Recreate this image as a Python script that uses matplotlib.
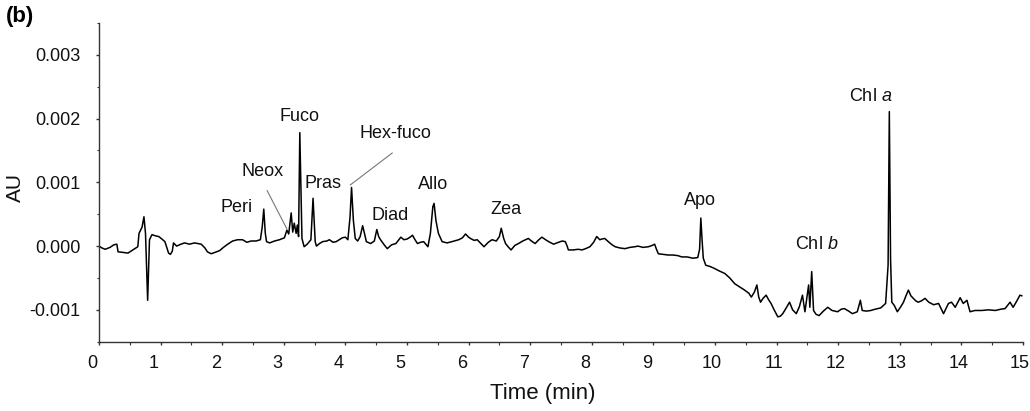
import matplotlib.pyplot as plt
from matplotlib.ticker import FixedLocator, MultipleLocator, FormatStrFormatter
from matplotlib.transforms import ScaledTranslation

plt.rcParams['font.family'] = ['Liberation Sans', 'DejaVu Sans']
plt.rcParams['mathtext.fontset'] = 'custom'
plt.rcParams['mathtext.rm'] = 'Liberation Sans'
plt.rcParams['mathtext.it'] = 'Liberation Sans:italic'

# chromatogram trace (time in min, absorbance in AU)
time = [0.00, 0.05, 0.10, 0.18, 0.24, 0.29, 0.31, 0.40, 0.47, 0.55, 0.63, 0.65, 0.70, 0.73, 0.755,
        0.79, 0.82, 0.86, 0.92, 0.97, 1.01, 1.07, 1.13, 1.16, 1.19, 1.21, 1.26, 1.33, 1.39, 1.47,
        1.55, 1.66, 1.72, 1.76, 1.82, 1.88, 1.96, 2.02, 2.09, 2.17, 2.25, 2.33, 2.40, 2.47, 2.55,
        2.62, 2.65, 2.675, 2.70, 2.72, 2.77, 2.85, 2.93, 3.01, 3.05, 3.08, 3.12, 3.145, 3.17, 3.20,
        3.22, 3.24, 3.26, 3.295, 3.33, 3.38, 3.44, 3.475, 3.51, 3.53, 3.58, 3.63, 3.70, 3.74, 3.80,
        3.85, 3.90, 3.95, 4.00, 4.04, 4.075, 4.10, 4.13, 4.16, 4.20, 4.24, 4.28, 4.31, 4.34, 4.41,
        4.47, 4.51, 4.54, 4.57, 4.63, 4.68, 4.75, 4.82, 4.90, 4.95, 5.00, 5.05, 5.09, 5.13, 5.17,
        5.22, 5.27, 5.34, 5.38, 5.42, 5.44, 5.47, 5.51, 5.57, 5.65, 5.73, 5.84, 5.90, 5.95, 6.00,
        6.03, 6.09, 6.14, 6.20, 6.25, 6.32, 6.38, 6.45, 6.50, 6.53, 6.57, 6.60, 6.65, 6.69, 6.75,
        6.81, 6.88, 6.97, 7.02, 7.08, 7.14, 7.19, 7.25, 7.30, 7.38, 7.46, 7.52, 7.57, 7.60, 7.62,
        7.70, 7.78, 7.84, 7.90, 7.97, 8.03, 8.08, 8.13, 8.16, 8.21, 8.28, 8.33, 8.38, 8.46, 8.54,
        8.62, 8.70, 8.75, 8.83, 8.92, 8.98, 9.02, 9.05, 9.08, 9.16, 9.24, 9.32, 9.40, 9.46, 9.55,
        9.64, 9.72, 9.75, 9.77, 9.79, 9.81, 9.85, 9.92, 9.99, 10.07, 10.16, 10.24, 10.32, 10.40, 10.48,
        10.55, 10.59, 10.64, 10.68, 10.71, 10.74, 10.78, 10.83, 10.87, 10.91, 10.96, 11.02, 11.06, 11.10, 11.15,
        11.21, 11.26, 11.32, 11.37, 11.42, 11.46, 11.52, 11.54, 11.57, 11.60, 11.64, 11.69, 11.76, 11.83, 11.90,
        11.99, 12.05, 12.10, 12.17, 12.23, 12.31, 12.36, 12.39, 12.46, 12.53, 12.60, 12.69, 12.77, 12.81, 12.83,
        12.85, 12.87, 12.91, 12.96, 13.01, 13.06, 13.10, 13.14, 13.18, 13.22, 13.26, 13.30, 13.35, 13.41, 13.47,
        13.55, 13.63, 13.67, 13.71, 13.75, 13.79, 13.84, 13.90, 13.98, 14.03, 14.09, 14.14, 14.22, 14.33, 14.44,
        14.55, 14.64, 14.71, 14.79, 14.84, 14.90, 14.95, 14.98]
au = [0.00000, -0.00003, -0.00005, -0.00002, 0.00002, 0.00003, -0.00009, -0.00010, -0.00011, -0.00006,
      -0.00001, 0.00020, 0.00030, 0.00046, 0.00020, -0.00085, 0.00010, 0.00018, 0.00016, 0.00015,
      0.00012, 0.00007, -0.00011, -0.00013, -0.00008, 0.00005, 0.00000, 0.00003, 0.00005, 0.00003,
      0.00005, 0.00003, -0.00003, -0.00009, -0.00012, -0.00010, -0.00007, -0.00002, 0.00003, 0.00008,
      0.00010, 0.00010, 0.00006, 0.00008, 0.00008, 0.00010, 0.00030, 0.00058, 0.00020, 0.00007,
      0.00005, 0.00008, 0.00010, 0.00013, 0.00025, 0.00019, 0.00052, 0.00022, 0.00036, 0.00020,
      0.00033, 0.00015, 0.00178, 0.00012, -0.00001, 0.00003, 0.00010, 0.00075, 0.00007, 0.00000,
      0.00004, 0.00007, 0.00008, 0.00010, 0.00006, 0.00007, 0.00010, 0.00013, 0.00014, 0.00010,
      0.00045, 0.00092, 0.00040, 0.00012, 0.00008, 0.00015, 0.00032, 0.00020, 0.00007, 0.00004,
      0.00008, 0.00026, 0.00015, 0.00010, 0.00002, -0.00004, 0.00002, 0.00004, 0.00014, 0.00010,
      0.00011, 0.00014, 0.00017, 0.00010, 0.00004, 0.00006, 0.00007, -0.00001, 0.00020, 0.00062,
      0.00067, 0.00040, 0.00020, 0.00007, 0.00005, 0.00007, 0.00010, 0.00013, 0.00019, 0.00014,
      0.00012, 0.00009, 0.00010, 0.00004, -0.00001, 0.00006, 0.00010, 0.00008, 0.00015, 0.00028,
      0.00012, 0.00004, -0.00002, -0.00006, 0.00001, 0.00004, 0.00008, 0.00012, 0.00008, 0.00004,
      0.00010, 0.00014, 0.00010, 0.00007, 0.00003, 0.00006, 0.00008, 0.00007, 0.00000, -0.00006,
      -0.00006, -0.00005, -0.00006, -0.00004, -0.00001, 0.00006, 0.00015, 0.00010, 0.00011, 0.00012,
      0.00006, 0.00002, -0.00001, -0.00003, -0.00004, -0.00002, -0.00001, 0.00000, -0.00002, -0.00001,
      0.00001, 0.00003, -0.00005, -0.00012, -0.00013, -0.00014, -0.00014, -0.00015, -0.00017, -0.00017,
      -0.00019, -0.00018, -0.00005, 0.00044, 0.00010, -0.00019, -0.00030, -0.00032, -0.00035, -0.00039,
      -0.00043, -0.00050, -0.00059, -0.00064, -0.00069, -0.00074, -0.00080, -0.00072, -0.00061, -0.00080,
      -0.00088, -0.00082, -0.00077, -0.00084, -0.00090, -0.00100, -0.00111, -0.00110, -0.00106, -0.00098,
      -0.00088, -0.00100, -0.00106, -0.00095, -0.00077, -0.00103, -0.00061, -0.00096, -0.00040, -0.00101,
      -0.00107, -0.00109, -0.00102, -0.00096, -0.00101, -0.00103, -0.00099, -0.00098, -0.00102, -0.00106,
      -0.00103, -0.00085, -0.00101, -0.00102, -0.00101, -0.00099, -0.00097, -0.00090, -0.00030, 0.00211,
      -0.00020, -0.00088, -0.00093, -0.00103, -0.00096, -0.00088, -0.00078, -0.00069, -0.00078, -0.00082,
      -0.00086, -0.00088, -0.00086, -0.00082, -0.00088, -0.00092, -0.00090, -0.00098, -0.00106, -0.00098,
      -0.00090, -0.00088, -0.00096, -0.00081, -0.00090, -0.00085, -0.00103, -0.00101, -0.00101, -0.00100,
      -0.00101, -0.00099, -0.00098, -0.00088, -0.00096, -0.00086, -0.00077, -0.00078]

# peak labels: text, x, y
peak_names = ['Peri', 'Neox', 'Fuco', 'Pras', 'Hex-fuco', 'Diad', 'Allo', 'Zea', 'Apo',
              'Chl $\\it{b}$', 'Chl $\\it{a}$']
peak_tx = [2.24, 2.65, 3.26, 3.63, 4.82, 4.72, 5.42, 6.60, 9.75, 11.65, 12.53]
peak_ty = [0.00060, 0.00117, 0.00203, 0.00098, 0.00176, 0.00048, 0.00096, 0.00058, 0.00072,
           0.00002, 0.00235]

xticks = list(range(16))

fig = plt.figure(figsize=(10.3, 4.11), dpi=100)
ax = fig.add_axes([0.0961, 0.1686, 0.8971, 0.7754])

ax.plot(time, au, color='black', lw=1.1)

for name, x, y in zip(peak_names, peak_tx, peak_ty):
    ax.text(x, y, name, ha='center', va='center', fontsize=13, color='#111111')

# leader lines for Neox and Hex-fuco
ax.plot([2.73, 3.05], [0.00087, 0.00027], color='#777777', lw=0.8)
ax.plot([4.76, 4.08], [0.00146, 0.00096], color='#777777', lw=0.8)

ax.set_xlim(0, 15)
ax.set_ylim(-0.0015, 0.0035)
ax.xaxis.set_major_locator(FixedLocator(xticks))
ax.xaxis.set_minor_locator(MultipleLocator(0.5))
ax.yaxis.set_major_locator(FixedLocator([-0.001, 0.0, 0.001, 0.002, 0.003]))
ax.yaxis.set_minor_locator(MultipleLocator(0.0005))
ax.yaxis.set_major_formatter(FormatStrFormatter('%.3f'))

for s in ['top', 'right']:
    ax.spines[s].set_visible(False)
for s in ['left', 'bottom']:
    ax.spines[s].set_color('#333333')
    ax.spines[s].set_linewidth(1.0)

ax.tick_params(axis='both', which='major', direction='out', length=2.5, width=1,
               color='#333333', labelsize=13, labelcolor='#111111')
ax.tick_params(axis='both', which='minor', direction='out', length=1.8, width=0.8, color='#333333')
ax.tick_params(axis='y', which='major', pad=11)
ax.tick_params(axis='x', which='major', pad=7)

# x tick labels sit a little left of their ticks in the original
for i, tick in enumerate(ax.xaxis.get_major_ticks()):
    shift = -0.065 if i < 10 else -0.03
    tick.label1.set_transform(tick.label1.get_transform()
                              + ScaledTranslation(shift, 0, fig.dpi_scale_trans))

ax.set_ylabel('AU', fontsize=15, color='#111111')
ax.yaxis.set_label_coords(-0.08, 0.485)
ax.set_xlabel('Time (min)', fontsize=16, color='#111111')
ax.xaxis.set_label_coords(0.48, -0.13)

fig.text(0.006, 0.96, '(b)', fontsize=16, fontweight='bold', ha='left', va='center')

fig.savefig('out.png', dpi=100)
